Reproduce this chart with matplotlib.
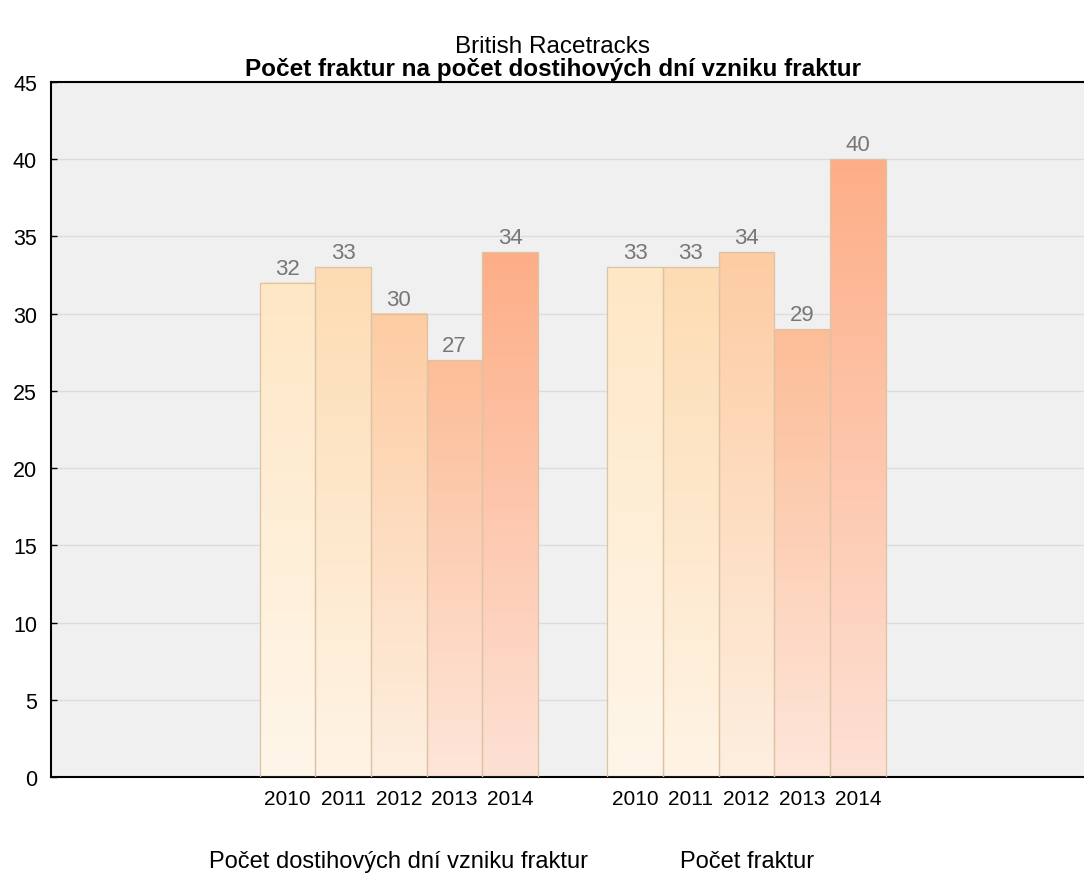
import matplotlib.pyplot as plt
import matplotlib.transforms as mtransforms
from matplotlib.colors import LinearSegmentedColormap
import numpy as np
from matplotlib import font_manager

years = ['2010', '2011', '2012', '2013', '2014']
groups = ['Počet dostihových dní vzniku fraktur', 'Počet fraktur']
race_days = [32, 33, 30, 27, 34]
fractures = [33, 33, 34, 29, 40]

top_colors = ['#fee7c5', '#fddcb3', '#fdcca3', '#fcbd97', '#fdae87']
bottom_colors = ['#fff6ea', '#fff4e5', '#feefe0', '#fee6da', '#fee1d5']

names = {f.name for f in font_manager.fontManager.ttflist}
narrow = 'Liberation Sans Narrow' if 'Liberation Sans Narrow' in names else 'Liberation Sans'
plt.rcParams['font.family'] = ['Liberation Sans', 'DejaVu Sans']

fig = plt.figure(figsize=(10.84, 8.79), dpi=100)
ax = fig.add_axes([0.047, 0.115, 0.953, 0.7905])
ax.set_facecolor('#f0f0f0')

centers = [1, 2]
width = 0.16
offsets = (np.arange(len(years)) - 2) * width

for gi, vals in enumerate([race_days, fractures]):
    for i, v in enumerate(vals):
        x = centers[gi] + offsets[i]
        cmap = LinearSegmentedColormap.from_list('g', [bottom_colors[i], top_colors[i]])
        grad = np.linspace(0, 1, 256).reshape(-1, 1)
        ax.imshow(grad, cmap=cmap, origin='lower', aspect='auto',
                  extent=(x - width / 2, x + width / 2, 0, v), zorder=2)
        ax.bar(x, v, width=width, facecolor='none', edgecolor='#dcc3a5',
               linewidth=0.9, zorder=3)
        ax.text(x, v + 0.25, str(v), ha='center', va='bottom', fontsize=16,
                color='#777777', zorder=4)

ax.set_xlim(0, 2.97)
ax.set_ylim(0, 45)
ax.set_yticks(range(0, 46, 5))
ax.tick_params(axis='y', direction='in', length=4, labelsize=15.5, pad=10, width=1)
ax.grid(axis='y', color='#dcdcdc', linewidth=1, zorder=0)

# year labels under every bar, group ticks at group centres
pos = [c + o for c in centers for o in offsets]
ax.set_xticks(pos)
ax.set_xticklabels(years * 2, fontsize=15, family=[narrow, 'DejaVu Sans'])
ax.tick_params(axis='x', length=0, pad=9)
ax.set_xticks(centers, minor=True)
ax.tick_params(axis='x', which='minor', direction='in', length=4, width=1)
ax.grid(axis='x', which='minor', color='#dcdcdc', linewidth=1, zorder=0)

trans = mtransforms.blended_transform_factory(ax.transData, fig.transFigure)
for c, g in zip(centers, groups):
    ax.text(c, 0.0193, g, transform=trans, ha='center', va='center', fontsize=17)

for side in ['left', 'top', 'bottom']:
    ax.spines[side].set_linewidth(1.5)
    ax.spines[side].set_color('black')
ax.spines['right'].set_visible(False)

fig.text(0.51, 0.9465, 'British Racetracks', ha='center', va='center', fontsize=17.5)
fig.text(0.51, 0.9204, 'Počet fraktur na počet dostihových dní vzniku fraktur',
         ha='center', va='center', fontsize=17.5, fontweight='bold')

fig.savefig('out.png', dpi=100)
